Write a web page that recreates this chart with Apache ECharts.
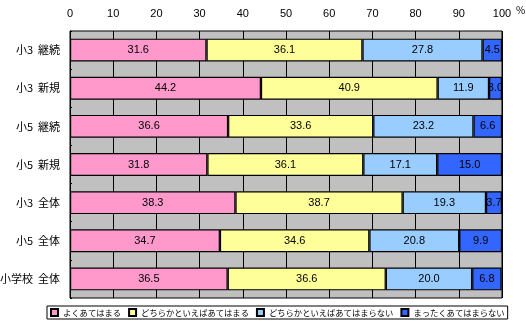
<!DOCTYPE html>
<html><head><meta charset="utf-8">
<script src="https://cdn.jsdelivr.net/npm/echarts@6/dist/echarts.min.js"></script>
<style>html,body{margin:0;padding:0;background:#fff}#c{width:526px;height:324px}</style>
</head><body><div id="c"></div>
<script>
const categories = ["小3  継続", "小3  新規", "小5  継続", "小5  新規", "小3  全体", "小5  全体", "小学校  全体"];
const seriesNames = ["よくあてはまる", "どちらかといえばあてはまる", "どちらかといえばあてはまらない", "まったくあてはまらない"];
const s1 = [31.6, 44.2, 36.6, 31.8, 38.3, 34.7, 36.5];
const s2 = [36.1, 40.9, 33.6, 36.1, 38.7, 34.6, 36.6];
const s3 = [27.8, 11.9, 23.2, 17.1, 19.3, 20.8, 20.0];
const s4 = [4.5, 3.0, 6.6, 15.0, 3.7, 9.9, 6.8];
const colors = ["#FF99CC", "#FFFF99", "#99CCFF", "#3366FF"];
const allData = [s1, s2, s3, s4];
const font = '"Noto Sans CJK JP", sans-serif';
const numFont = '"Liberation Sans", Arial, sans-serif';

const chart = echarts.init(document.getElementById('c'));
chart.setOption({
  animation: false,
  backgroundColor: '#fff',
  title: { text: '%', left: 511, top: 0, textStyle: { fontSize: 10, fontWeight: 'normal', color: '#000', fontFamily: font } },
  grid: { left: 70, right: 24, top: 31, bottom: 26, outerBoundsMode: 'none', containLabel: false,
    show: true, backgroundColor: '#C0C0C0', borderColor: '#000', borderWidth: 1 },
  legend: {
    data: seriesNames, left: 47, top: 306, width: 520, orient: 'horizontal',
    icon: 'rect', itemWidth: 7, itemHeight: 7, itemGap: 7,
    borderColor: '#000', borderWidth: 1, padding: [2, 3, 2, 3],
    textStyle: { fontSize: 8.3, color: '#000', fontFamily: font }
  },
  xAxis: {
    type: 'value', position: 'top', min: 0, max: 100, interval: 10,
    axisLine: { show: false }, axisTick: { show: false },
    axisLabel: { color: '#000', fontSize: 11, fontFamily: numFont, margin: 12 },
    splitLine: { show: true, lineStyle: { color: '#000', width: 1 } }
  },
  yAxis: {
    type: 'category', data: categories, inverse: true,
    axisLine: { show: true, lineStyle: { color: '#000', width: 1 } },
    axisTick: { show: true, length: 2, inside: true, lineStyle: { color: '#000' } },
    axisLabel: { color: '#000', fontSize: 11, fontFamily: font, margin: 10 }
  },
  series: allData.map((d, i) => ({
    name: seriesNames[i], type: 'bar', stack: 'total', data: d,
    barCategoryGap: '40%',
    itemStyle: { color: colors[i], borderColor: '#000', borderWidth: 1.2 },
    label: { show: true, position: 'inside', color: '#000', fontSize: 11, fontFamily: numFont,
      formatter: p => p.value.toFixed(1) }
  }))
});
</script></body></html>
